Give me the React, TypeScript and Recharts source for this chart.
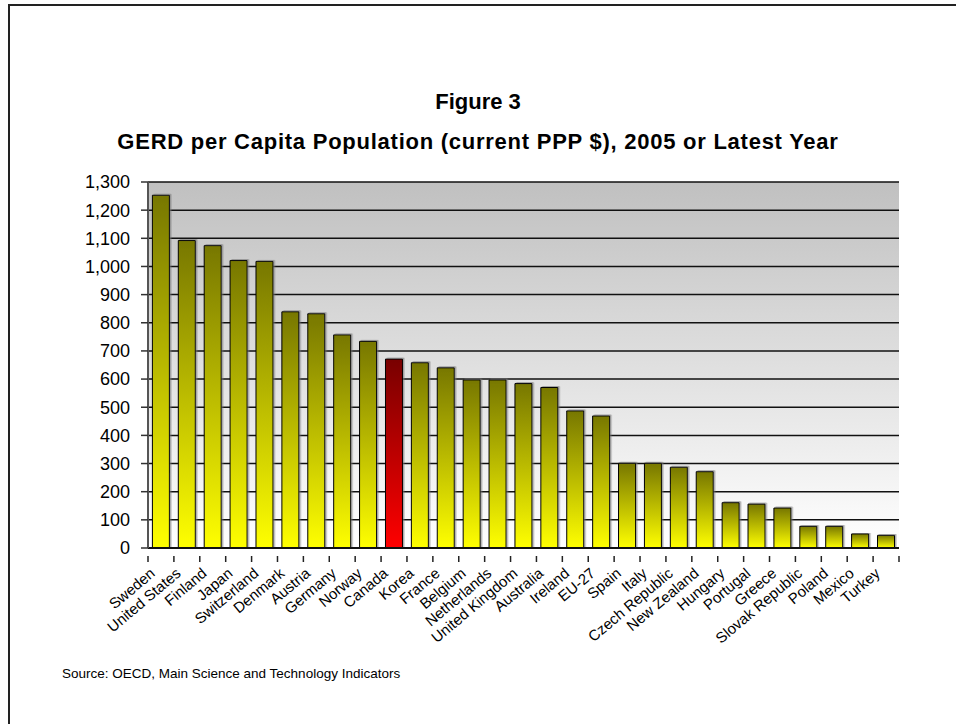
import { Bar, BarChart, CartesianGrid, Cell, XAxis, YAxis } from "recharts";

const countries = [
  "Sweden", "United States", "Finland", "Japan", "Switzerland", "Denmark", "Austria", "Germany",
  "Norway", "Canada", "Korea", "France", "Belgium", "Netherlands", "United Kingdom", "Australia",
  "Ireland", "EU-27", "Spain", "Italy", "Czech Republic", "New Zealand", "Hungary", "Portugal",
  "Greece", "Slovak Republic", "Poland", "Mexico", "Turkey",
];

const gerdPerCapita = [
  1253, 1092, 1074, 1021, 1018, 839, 832, 757,
  734, 671, 658, 640, 597, 597, 584, 570,
  487, 469, 301, 301, 287, 271, 161, 156,
  142, 77, 77, 50, 45,
];

const yTicks = [0, 100, 200, 300, 400, 500, 600, 700, 800, 900, 1000, 1100, 1200, 1300];

const highlight = "Canada";

const data = countries.map((country, i) => ({ country, value: gerdPerCapita[i] }));

const font = "'Liberation Sans', Arial, sans-serif";

if (typeof document !== "undefined") {
  document.documentElement.style.overflow = "hidden";
  document.body.style.overflow = "hidden";
}

function CountryTick(props: any) {
  const { x, y, payload, index } = props;
  const half = payload?.offset ?? 12.95;
  const last = index === countries.length - 1;
  return (
    <g>
      <line x1={x - half} y1={y} x2={x - half} y2={y + 6} stroke="#222" strokeWidth={1.5} />
      {last && <line x1={x + half} y1={y} x2={x + half} y2={y + 6} stroke="#222" strokeWidth={1.5} />}
      <g transform={`translate(${x - 5},${y + 19})`}>
        <text transform="rotate(-40)" textAnchor="end" fill="#000" fontSize={15} fontFamily={font}>
          {payload.value}
        </text>
      </g>
    </g>
  );
}

export default function App() {
  return (
    <div style={{ position: "absolute", left: 0, top: 0, width: 956, height: 724, overflow: "hidden", fontFamily: font }}>
      <div style={{ position: "absolute", left: 8, top: 4, width: 948, height: 2, background: "#222" }} />
      <div style={{ position: "absolute", left: 8, top: 4, width: 2, height: 720, background: "#222" }} />
      <div style={{ position: "absolute", left: 0, top: 0 }}>
        <BarChart width={940} height={700} data={data} margin={{ top: 182, right: 41, bottom: 52, left: 8 }} barCategoryGap="17%">
          <defs>
            <linearGradient id="plotBg" x1="0" y1="0" x2="0" y2="1">
              <stop offset="0%" stopColor="#c0c0c0" />
              <stop offset="100%" stopColor="#ffffff" />
            </linearGradient>
            <linearGradient id="olive" x1="0" y1="0" x2="0" y2="1">
              <stop offset="0%" stopColor="#777700" />
              <stop offset="100%" stopColor="#ffff00" />
            </linearGradient>
            <linearGradient id="red" x1="0" y1="0" x2="0" y2="1">
              <stop offset="0%" stopColor="#780000" />
              <stop offset="100%" stopColor="#ff0000" />
            </linearGradient>
            <filter id="barShadow" x="-20%" y="-5%" width="140%" height="110%">
              <feDropShadow dx="1.5" dy="-1" stdDeviation="0.6" floodColor="#777" floodOpacity="0.6" />
            </filter>
          </defs>
          <CartesianGrid vertical={false} stroke="#111" strokeWidth={1.5} fill="url(#plotBg)" />
          <XAxis
            dataKey="country"
            interval={0}
            height={100}
            tickLine={false}
            axisLine={{ stroke: "#111", strokeWidth: 2 }}
            tick={<CountryTick />}
          />
          <YAxis
            width={140}
            domain={[0, 1300]}
            ticks={yTicks}
            interval={0}
            tickSize={7}
            tickMargin={11}
            axisLine={{ stroke: "#555", strokeWidth: 2 }}
            tickLine={{ stroke: "#333", strokeWidth: 1.5 }}
            tick={{ fill: "#000", fontSize: 18, fontFamily: font }}
            tickFormatter={(v: number) => v.toLocaleString("en-US")}
          />
          <Bar dataKey="value" stroke="#000" strokeWidth={1} isAnimationActive={false}>
            {data.map((d) => (
              <Cell
                key={d.country}
                fill={d.country === highlight ? "url(#red)" : "url(#olive)"}
                filter="url(#barShadow)"
              />
            ))}
          </Bar>
        </BarChart>
      </div>
      <div style={{ position: "absolute", left: 0, top: 91, width: 956, textAlign: "center", fontWeight: "bold", fontSize: 22, lineHeight: "22px" }}>
        Figure 3
      </div>
      <div style={{ position: "absolute", left: 0, top: 131, width: 956, textAlign: "center", fontWeight: "bold", fontSize: 22, lineHeight: "22px", letterSpacing: 0.75 }}>
        GERD per Capita Population (current PPP $), 2005 or Latest Year
      </div>
      <div style={{ position: "absolute", left: 62, top: 666, fontSize: 13.5, lineHeight: "16px" }}>
        Source: OECD, Main Science and Technology Indicators
      </div>
    </div>
  );
}
